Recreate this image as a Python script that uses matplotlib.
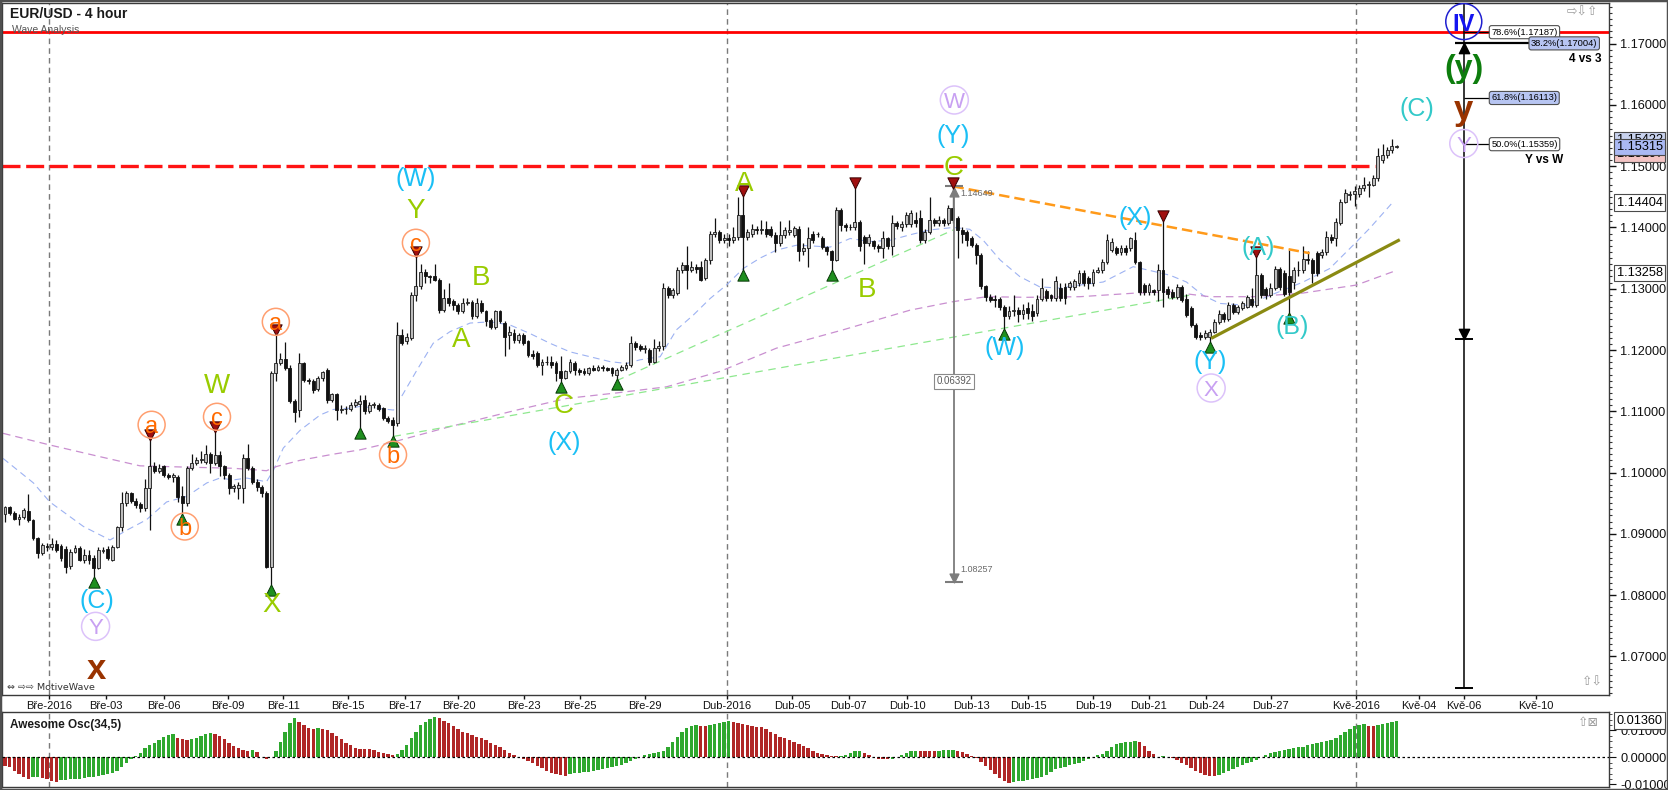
import matplotlib
matplotlib.use("Agg")
import matplotlib.pyplot as plt
import matplotlib.transforms as mtransforms
from matplotlib import font_manager
from matplotlib.ticker import MultipleLocator, FormatStrFormatter
import numpy as np

# ---------------------------------------------------------------- data
opens = [
 1.0933,1.0943,1.0934,1.0925,1.0928,1.0937,1.0923,1.0893,1.0868,1.0880,
 1.0878,1.0884,1.0880,1.0875,1.0847,1.0871,1.0877,1.0858,1.0866,1.0860,
 1.0845,1.0872,1.0876,1.0858,1.0879,1.0911,1.0950,1.0966,1.0953,1.0948,
 1.0942,1.0974,1.1010,1.1003,1.1010,1.0996,1.0993,1.0993,1.0962,1.0950,
 1.1007,1.1015,1.1020,1.1018,1.1030,1.1015,1.1029,1.1010,1.0996,1.0974,
 1.0974,1.0974,1.1023,1.1007,1.0985,1.0977,1.0966,1.0846,1.1162,1.1178,
 1.1186,1.1170,1.1116,1.1102,1.1178,1.1151,1.1150,1.1137,1.1154,1.1167,
 1.1118,1.1128,1.1102,1.1104,1.1103,1.1110,1.1112,1.1119,1.1100,1.1110,
 1.1111,1.1105,1.1089,1.1086,1.1081,1.1225,1.1214,1.1220,1.1290,1.1304,
 1.1328,1.1320,1.1321,1.1315,1.1266,1.1285,1.1280,1.1274,1.1263,1.1277,
 1.1278,1.1255,1.1277,1.1263,1.1249,1.1238,1.1263,1.1244,1.1225,1.1228,
 1.1217,1.1225,1.1214,1.1194,1.1195,1.1176,1.1181,1.1181,1.1178,1.1165,
 1.1154,1.1165,1.1179,1.1168,1.1165,1.1163,1.1170,1.1168,1.1172,1.1170,
 1.1170,1.1160,1.1168,1.1170,1.1176,1.1211,1.1206,1.1201,1.1200,1.1181,
 1.1203,1.1206,1.1301,1.1290,1.1293,1.1331,1.1339,1.1331,1.1336,1.1336,
 1.1317,1.1347,1.1390,1.1393,1.1380,1.1382,1.1380,1.1385,1.1420,1.1385,
 1.1390,1.1397,1.1396,1.1397,1.1398,1.1388,1.1374,1.1388,1.1393,1.1388,
 1.1398,1.1361,1.1366,1.1390,1.1389,1.1383,1.1368,1.1361,1.1347,1.1428,
 1.1404,1.1401,1.1400,1.1409,1.1385,1.1374,1.1378,1.1370,1.1366,1.1382,
 1.1369,1.1407,1.1401,1.1405,1.1405,1.1412,1.1415,1.1380,1.1393,1.1412,
 1.1407,1.1412,1.1407,1.1431,1.1415,1.1396,1.1393,1.1383,1.1372,1.1355,
 1.1304,1.1287,1.1284,1.1284,1.1270,1.1255,1.1264,1.1265,1.1258,1.1268,
 1.1263,1.1260,1.1284,1.1296,1.1289,1.1285,1.1301,1.1303,1.1303,1.1303,
 1.1309,1.1325,1.1317,1.1309,1.1328,1.1330,1.1344,1.1363,1.1366,1.1360,
 1.1366,1.1366,1.1380,1.1344,1.1306,1.1295,1.1298,1.1298,1.1330,1.1300,
 1.1295,1.1287,1.1303,1.1284,1.1268,1.1241,1.1225,1.1222,1.1222,1.1230,
 1.1246,1.1259,1.1250,1.1273,1.1262,1.1268,1.1270,1.1284,1.1273,1.1322,
 1.1300,1.1290,1.1301,1.1333,1.1325,1.1320,1.1311,1.1330,1.1330,1.1349,
 1.1347,1.1358,1.1355,1.1360,1.1385,1.1382,1.1407,1.1442,1.1453,1.1454,
 1.1455,1.1464,1.1470,1.1470,1.1480,1.1510,1.1518,1.1526,1.1532]
highs = [
 1.0945,1.0946,1.0937,1.0932,1.0942,1.0965,1.0925,1.0895,1.0885,1.0885,
 1.0893,1.0890,1.0884,1.0880,1.0875,1.0881,1.0880,1.0875,1.0874,1.0865,
 1.0878,1.0879,1.0880,1.0881,1.0913,1.0968,1.0970,1.0968,1.0958,1.0952,
 1.0990,1.1053,1.1018,1.1014,1.1013,1.0999,1.0999,1.0996,1.0978,1.1010,
 1.1030,1.1025,1.1035,1.1045,1.1033,1.1067,1.1035,1.1012,1.0999,1.0982,
 1.0984,1.1031,1.1046,1.1010,1.0990,1.0980,1.0970,1.1165,1.1224,1.1195,
 1.1213,1.1175,1.1120,1.1195,1.1180,1.1154,1.1153,1.1157,1.1166,1.1170,
 1.1130,1.1130,1.1110,1.1108,1.1115,1.1120,1.1126,1.1126,1.1115,1.1115,
 1.1114,1.1107,1.1092,1.1090,1.1245,1.1235,1.1228,1.1295,1.1352,1.1340,
 1.1332,1.1322,1.1340,1.1318,1.1300,1.1310,1.1283,1.1276,1.1285,1.1285,
 1.1282,1.1285,1.1282,1.1266,1.1252,1.1266,1.1266,1.1247,1.1240,1.1235,
 1.1228,1.1228,1.1217,1.1200,1.1198,1.1185,1.1190,1.1190,1.1182,1.1190,
 1.1168,1.1185,1.1182,1.1170,1.1170,1.1173,1.1175,1.1176,1.1175,1.1173,
 1.1173,1.1170,1.1176,1.1180,1.1223,1.1214,1.1210,1.1208,1.1204,1.1218,
 1.1215,1.1310,1.1305,1.1302,1.1335,1.1343,1.1369,1.1345,1.1340,1.1345,
 1.1350,1.1395,1.1415,1.1396,1.1390,1.1390,1.1400,1.1450,1.1452,1.1398,
 1.1405,1.1402,1.1412,1.1410,1.1403,1.1392,1.1410,1.1400,1.1412,1.1402,
 1.1402,1.1375,1.1400,1.1394,1.1393,1.1386,1.1370,1.1364,1.1433,1.1432,
 1.1408,1.1405,1.1464,1.1412,1.1388,1.1390,1.1380,1.1373,1.1395,1.1385,
 1.1420,1.1410,1.1410,1.1425,1.1428,1.1426,1.1428,1.1398,1.1450,1.1415,
 1.1418,1.1415,1.1437,1.1465,1.1418,1.1400,1.1396,1.1386,1.1375,1.1358,
 1.1306,1.1292,1.1290,1.1287,1.1273,1.1272,1.1290,1.1270,1.1275,1.1278,
 1.1275,1.1290,1.1318,1.1300,1.1292,1.1320,1.1310,1.1310,1.1312,1.1316,
 1.1330,1.1330,1.1320,1.1333,1.1335,1.1349,1.1390,1.1382,1.1370,1.1372,
 1.1372,1.1385,1.1392,1.1346,1.1310,1.1310,1.1300,1.1340,1.1410,1.1305,
 1.1300,1.1308,1.1306,1.1292,1.1272,1.1244,1.1230,1.1232,1.1235,1.1250,
 1.1265,1.1262,1.1278,1.1276,1.1274,1.1280,1.1290,1.1302,1.1352,1.1326,
 1.1303,1.1310,1.1337,1.1336,1.1330,1.1364,1.1335,1.1345,1.1370,1.1362,
 1.1350,1.1362,1.1365,1.1395,1.1390,1.1415,1.1446,1.1462,1.1460,1.1467,
 1.1470,1.1482,1.1475,1.1485,1.1530,1.1536,1.1532,1.1544,1.1534]
lows = [
 1.0920,1.0930,1.0922,1.0915,1.0925,1.0920,1.0890,1.0860,1.0865,1.0872,
 1.0874,1.0870,1.0855,1.0836,1.0843,1.0868,1.0855,1.0853,1.0850,1.0830,
 1.0842,1.0868,1.0857,1.0855,1.0877,1.0905,1.0945,1.0950,1.0942,1.0935,
 1.0938,1.0906,1.1000,1.1000,1.0993,1.0990,1.0985,1.0952,1.0933,1.0946,
 1.1004,1.1012,1.1016,1.1014,1.1000,1.1012,1.0995,1.0990,1.0965,1.0968,
 1.0957,1.0950,1.1004,1.0982,1.0970,1.0960,1.0845,1.0817,1.1150,1.1175,
 1.1167,1.1113,1.1082,1.1090,1.1147,1.1145,1.1130,1.1133,1.1150,1.1113,
 1.1115,1.1085,1.1098,1.1096,1.1100,1.1107,1.1073,1.1095,1.1097,1.1105,
 1.1100,1.1085,1.1081,1.1059,1.1076,1.1208,1.1210,1.1217,1.1280,1.1300,
 1.1310,1.1310,1.1312,1.1261,1.1262,1.1272,1.1266,1.1258,1.1260,1.1274,
 1.1250,1.1252,1.1260,1.1240,1.1235,1.1235,1.1244,1.1190,1.1202,1.1212,
 1.1212,1.1208,1.1189,1.1185,1.1172,1.1160,1.1176,1.1170,1.1150,1.1147,
 1.1152,1.1162,1.1160,1.1160,1.1160,1.1160,1.1165,1.1165,1.1166,1.1165,
 1.1158,1.1152,1.1165,1.1168,1.1172,1.1200,1.1198,1.1195,1.1175,1.1178,
 1.1198,1.1200,1.1285,1.1285,1.1290,1.1326,1.1300,1.1328,1.1326,1.1312,
 1.1315,1.1340,1.1385,1.1375,1.1375,1.1370,1.1375,1.1380,1.1330,1.1380,
 1.1385,1.1390,1.1390,1.1385,1.1385,1.1360,1.1370,1.1383,1.1388,1.1385,
 1.1345,1.1355,1.1335,1.1375,1.1385,1.1365,1.1355,1.1330,1.1345,1.1395,
 1.1395,1.1396,1.1396,1.1362,1.1340,1.1370,1.1365,1.1360,1.1350,1.1365,
 1.1355,1.1398,1.1395,1.1400,1.1400,1.1400,1.1375,1.1375,1.1390,1.1402,
 1.1402,1.1402,1.1404,1.1408,1.1350,1.1375,1.1370,1.1368,1.1340,1.1300,
 1.1280,1.1278,1.1270,1.1265,1.1235,1.1250,1.1255,1.1245,1.1250,1.1250,
 1.1248,1.1255,1.1280,1.1280,1.1280,1.1280,1.1280,1.1275,1.1298,1.1298,
 1.1305,1.1305,1.1300,1.1305,1.1325,1.1326,1.1340,1.1360,1.1355,1.1355,
 1.1355,1.1362,1.1340,1.1290,1.1290,1.1290,1.1290,1.1280,1.1270,1.1285,
 1.1283,1.1283,1.1278,1.1254,1.1238,1.1218,1.1217,1.1218,1.1213,1.1228,
 1.1243,1.1245,1.1247,1.1258,1.1258,1.1265,1.1268,1.1270,1.1270,1.1285,
 1.1283,1.1287,1.1298,1.1298,1.1288,1.1260,1.1300,1.1320,1.1325,1.1340,
 1.1310,1.1320,1.1350,1.1355,1.1375,1.1370,1.1404,1.1440,1.1445,1.1435,
 1.1450,1.1460,1.1450,1.1467,1.1475,1.1505,1.1514,1.1522,1.1530]
closes = [
 1.0943,1.0934,1.0925,1.0927,1.0939,1.0923,1.0893,1.0868,1.0882,1.0878,
 1.0884,1.0874,1.0860,1.0846,1.0871,1.0877,1.0858,1.0866,1.0857,1.0845,
 1.0874,1.0874,1.0860,1.0879,1.0911,1.0950,1.0966,1.0953,1.0947,1.0942,
 1.0974,1.1010,1.1003,1.1008,1.0996,1.0993,1.0996,1.0960,1.0950,1.1007,
 1.1015,1.1020,1.1022,1.1030,1.1015,1.1029,1.1010,1.0996,1.0974,1.0978,
 1.0980,1.1023,1.1007,1.0985,1.0977,1.0966,1.0846,1.1162,1.1178,1.1186,
 1.1170,1.1116,1.1099,1.1178,1.1151,1.1150,1.1135,1.1154,1.1164,1.1118,
 1.1128,1.1102,1.1104,1.1103,1.1110,1.1115,1.1117,1.1100,1.1110,1.1112,
 1.1103,1.1089,1.1084,1.1078,1.1225,1.1211,1.1222,1.1290,1.1304,1.1328,
 1.1320,1.1319,1.1315,1.1266,1.1285,1.1277,1.1274,1.1263,1.1277,1.1279,
 1.1255,1.1277,1.1263,1.1247,1.1237,1.1263,1.1247,1.1222,1.1230,1.1217,
 1.1225,1.1211,1.1192,1.1190,1.1176,1.1181,1.1180,1.1176,1.1162,1.1154,
 1.1165,1.1180,1.1168,1.1164,1.1163,1.1170,1.1168,1.1173,1.1170,1.1168,
 1.1162,1.1168,1.1173,1.1175,1.1211,1.1205,1.1202,1.1203,1.1181,1.1203,
 1.1206,1.1301,1.1290,1.1298,1.1331,1.1339,1.1331,1.1336,1.1333,1.1315,
 1.1347,1.1390,1.1393,1.1380,1.1383,1.1380,1.1385,1.1420,1.1385,1.1393,
 1.1398,1.1396,1.1398,1.1389,1.1388,1.1374,1.1388,1.1396,1.1396,1.1399,
 1.1361,1.1366,1.1382,1.1380,1.1390,1.1368,1.1361,1.1347,1.1428,1.1404,
 1.1400,1.1400,1.1409,1.1369,1.1374,1.1384,1.1369,1.1366,1.1382,1.1369,
 1.1407,1.1402,1.1405,1.1420,1.1424,1.1407,1.1380,1.1393,1.1412,1.1407,
 1.1412,1.1407,1.1431,1.1412,1.1396,1.1390,1.1380,1.1372,1.1355,1.1304,
 1.1287,1.1282,1.1282,1.1270,1.1255,1.1263,1.1265,1.1258,1.1265,1.1260,
 1.1255,1.1284,1.1301,1.1285,1.1285,1.1312,1.1285,1.1285,1.1309,1.1312,
 1.1325,1.1309,1.1309,1.1328,1.1330,1.1344,1.1379,1.1377,1.1358,1.1366,
 1.1360,1.1382,1.1344,1.1295,1.1295,1.1306,1.1295,1.1330,1.1295,1.1292,
 1.1287,1.1303,1.1282,1.1257,1.1241,1.1222,1.1222,1.1227,1.1230,1.1246,
 1.1259,1.1250,1.1273,1.1262,1.1270,1.1276,1.1287,1.1273,1.1322,1.1290,
 1.1290,1.1301,1.1333,1.1303,1.1292,1.1295,1.1330,1.1331,1.1349,1.1347,
 1.1325,1.1325,1.1360,1.1385,1.1380,1.1409,1.1442,1.1456,1.1454,1.1459,
 1.1464,1.1469,1.1470,1.1480,1.1516,1.1518,1.1526,1.1533,1.1532]

# Awesome Oscillator (34,5), read per bar, in units of 1e-4
ao_e4 = [
 -32.1,-37.1,-49.4,-61.8,-71.7,-79.1,-74.2,-71.7,-75.4,-81.6,
 -87.8,-90.2,-84.0,-82.8,-81.6,-80.3,-79.1,-76.6,-74.2,-71.7,
 -69.2,-65.5,-60.6,-56.9,-49.4,-37.1,-22.2,-7.4,4.9,17.3,
 33.4,45.7,54.4,64.3,74.2,82.8,85.3,70.4,66.8,64.3,
 66.8,70.4,79.1,86.5,89.0,86.5,79.1,66.8,54.4,42.0,
 33.4,27.2,24.7,25.9,21.0,2.5,-4.9,0.0,24.7,58.1,
 95.2,126.1,144.6,132.3,119.9,110.0,106.3,107.5,106.3,101.3,
 91.5,79.1,66.8,54.4,45.7,35.8,32.1,29.7,29.0,27.2,
 21.0,17.3,12.4,7.4,12.4,27.2,45.7,70.4,95.2,119.9,
 132.3,140.9,150.8,144.6,135.2,126.1,116.2,105.1,95.2,89.0,
 82.8,76.6,70.4,64.3,54.4,45.7,37.1,27.2,17.3,8.7,
 0.0,-7.4,-13.6,-22.2,-32.1,-40.8,-49.4,-56.9,-61.8,-65.5,
 -68.0,-61.8,-59.3,-56.9,-54.4,-53.1,-50.7,-46.9,-44.5,-40.8,
 -37.1,-32.1,-28.4,-22.2,-13.6,-7.4,0.0,7.4,12.4,14.8,
 18.5,24.7,37.1,58.1,76.6,95.2,107.5,116.2,118.7,117.4,
 116.2,118.7,123.6,128.5,132.3,134.7,132.3,128.5,123.6,118.7,
 116.2,113.7,111.2,103.8,95.2,86.5,76.6,70.4,64.3,56.9,
 49.4,42.0,33.4,24.7,17.3,12.4,7.4,4.9,3.7,6.2,
 9.9,14.8,22.2,24.7,14.8,7.4,0.0,-4.9,-7.4,-7.9,
 -4.9,0.0,9.9,17.3,22.2,24.7,24.1,23.5,22.9,22.2,
 23.5,25.9,27.2,27.8,24.7,19.8,12.4,4.9,-2.5,-16.1,
 -32.1,-46.9,-61.8,-77.9,-87.8,-93.9,-91.5,-89.0,-86.5,-84.0,
 -81.6,-77.9,-71.7,-64.3,-54.4,-44.5,-39.6,-34.6,-29.7,-24.7,
 -19.8,-13.6,-7.4,0.0,7.4,12.4,22.2,37.1,48.2,54.4,
 56.9,58.1,61.8,58.1,42.0,24.7,12.4,2.5,3.1,1.2,
 -2.5,-9.9,-19.8,-29.7,-39.6,-49.4,-59.3,-65.5,-69.2,-69.8,
 -64.3,-56.9,-49.4,-42.0,-34.6,-28.4,-22.2,-17.3,-9.9,0.0,
 7.4,14.8,19.8,24.7,27.2,32.1,35.8,37.1,39.6,44.5,
 49.4,51.9,56.9,60.6,64.3,71.7,81.6,95.2,106.3,116.2,
 121.1,121.7,117.4,116.2,118.7,123.6,127.3,131.0,136.0]

date_labels = ["Bře-2016", "Bře-03", "Bře-06", "Bře-09", "Bře-11", "Bře-15",
               "Bře-17", "Bře-20", "Bře-23", "Bře-25", "Bře-29", "Dub-2016",
               "Dub-05", "Dub-07", "Dub-10", "Dub-13", "Dub-15", "Dub-19",
               "Dub-21", "Dub-24", "Dub-27", "Kvě-2016", "Kvě-04", "Kvě-06",
               "Kvě-10"]
date_bars = [9.5, 21.7, 34.0, 47.7, 59.6, 73.5, 85.7, 97.1, 111.1, 123.1, 137.0,
             154.6, 168.6, 180.7, 193.2, 206.9, 219.1, 233.0, 244.9, 257.3,
             271.1, 289.3, 302.8, 312.5, 327.9]

# moving averages (bar index, price)
fast_ma_bars = [-0.4,6.1,9.6,16.8,22.5,26.1,30.3,34.6,38.9,43.2,46.0,48.9,51.8,56.0,
                57.5,59.6,63.2,67.5,70.3,73.9,76.0,83.2,85.3,88.2,91.7,95.3,99.6,
                103.9,108.1,112.4,116.7,121.0,125.3,129.6,133.1,136.0,140.3,143.8,
                147.4,151.0,154.5,158.1,161.7,165.2,169.5,172.4,176.7,181.0,185.2,
                189.5,193.8,198.1,203.1,206.6,209.5,213.1,217.3,221.6,225.9,230.2,
                235.2,241.6,244.5,249.5,253.0,256.6,260.2,265.9,270.9,278.0,283.7,
                288.7,292.3,297.3]
fast_ma_values = [1.1023,1.0983,1.0952,1.0912,1.0890,1.0906,1.0923,1.0952,1.0961,1.0983,
                  1.0991,1.0988,1.0991,1.0985,1.1004,1.1040,1.1069,1.1094,1.1103,1.1105,
                  1.1108,1.1102,1.1129,1.1167,1.1211,1.1230,1.1244,1.1246,1.1241,1.1227,
                  1.1211,1.1197,1.1189,1.1181,1.1178,1.1184,1.1189,1.1233,1.1257,1.1284,
                  1.1306,1.1333,1.1350,1.1363,1.1371,1.1370,1.1368,1.1382,1.1377,1.1379,
                  1.1388,1.1396,1.1400,1.1397,1.1379,1.1347,1.1320,1.1303,1.1301,1.1306,
                  1.1311,1.1336,1.1331,1.1322,1.1311,1.1289,1.1276,1.1273,1.1289,1.1311,
                  1.1333,1.1371,1.1399,1.1442]
slow_ma_bars = [-0.4,9.6,20.3,28.9,38.2,48.9,56.0,58.2,63.2,70.3,76.0,83.2,95.3,109.6,
                120.3,131.0,141.7,153.1,165.2,179.5,193.8,203.1,210.2,218.8,230.2,
                242.3,249.5,258.0,267.3,278.0,289.4,297.3]
slow_ma_values = [1.1064,1.1045,1.1026,1.1011,1.1009,1.1007,1.1003,1.1010,1.1020,1.1030,
                  1.1037,1.1050,1.1075,1.1102,1.1121,1.1130,1.1140,1.1165,1.1203,1.1233,
                  1.1265,1.1279,1.1287,1.1286,1.1287,1.1293,1.1295,1.1287,1.1287,1.1293,
                  1.1306,1.1328]

# swing markers (bar indices)
swing_high_bars = [31, 45, 58, 88, 158, 182, 203, 248, 268]
swing_low_bars = [19, 38, 57, 76, 83, 119, 131, 158, 177, 214, 258, 275]

# wave labels
wave_texts = ['(C)','Y','x','a','b','c','W','a','X','b','c','Y','(W)','A','B','C','(X)',
              'A','B','C','(Y)','W','(W)','(X)','(Y)','X','(A)','(B)','(C)','IV','(y)','y','Y']
wave_bars = [19.6,19.4,19.6,31.4,38.5,45.4,45.4,58.0,57.0,83.1,88.0,88.0,88.0,97.6,101.9,
             119.6,119.8,158.2,184.5,203.1,203.1,203.3,214.1,242.1,258.1,258.3,268.4,
             275.7,302.4,312.4,312.4,312.4,312.4]
wave_prices = [1.0795,1.0749,1.0684,1.1078,1.0912,1.1091,1.1146,1.1246,1.0789,1.1029,
               1.1375,1.1431,1.1483,1.1222,1.1322,1.1113,1.1053,1.1475,1.1303,1.1502,
               1.1554,1.1608,1.1208,1.1420,1.1184,1.1138,1.1371,1.1241,1.1597,1.1736,
               1.1665,1.1597,1.1537]
wave_kinds = ['cyan','lilac','brown','orange','orange','orange','lime','orange','lime','orange',
              'orange','lime','cyan','lime','lime','lime','cyan','lime','lime','lime',
              'cyan','lilac','cyan','cyan','cyan','lilac','teal','teal','teal','blue',
              'green','brown','lilac']

# drawn lines (bar, price endpoints)
green_trend_bars = [(83.2, 254.1), (131.0, 203.1)]
green_trend_prices = [(1.1059, 1.1290), (1.1150, 1.1396)]
orange_trend_bars = (203.1, 279.4)
orange_trend_prices = (1.1467, 1.1358)
olive_trend_bars = (258.3, 298.7)
olive_trend_prices = (1.1219, 1.1380)

level_solid = 1.17187
level_dashed = 1.15000
level_dashed_end_bar = 293.4

# measurement tool at wave C
measure_bar = 203.3
measure_high = 1.14649
measure_low = 1.08257

# fibonacci projection tool on the right
fib_bar = 312.4
fib_names = ['78.6%', '38.2%', '61.8%', '50.0%']
fib_levels = [1.17187, 1.17004, 1.16113, 1.15359]
fib_top, fib_bottom, fib_target = 1.1766, 1.0648, 1.12175

axis_marks = [1.15422, 1.15197, 1.15315, 1.14404, 1.13258]
ao_last = 0.01360

# ---------------------------------------------------------------- styling
plt.rcParams['font.family'] = ['Liberation Sans', 'DejaVu Sans']
names = {f.name for f in font_manager.fontManager.ttflist}
HAS_NARROW = 'Liberation Sans Narrow' in names
NARROW = ['Liberation Sans Narrow', 'Liberation Sans'] if HAS_NARROW else ['Liberation Sans']
narrow_size = 8 if HAS_NARROW else 6.7

W, H = 1668, 790
fig = plt.figure(figsize=(W / 100, H / 100), dpi=100)
fig.patch.set_facecolor('white')


def rect(l, t, r, b):
    return [l / W, 1 - b / H, (r - l) / W, (b - t) / H]


ax = fig.add_axes(rect(2, 3, 1609, 695))
ao = fig.add_axes(rect(2, 712, 1609, 787))
XMIN, XMAX = -0.64, 343.5
for a in (ax, ao):
    a.set_xlim(XMIN, XMAX)
    for s in a.spines.values():
        s.set_color('#3a3a3a')
        s.set_linewidth(1.0)
ax.set_ylim(1.0637, 1.17663)
ao.set_ylim(-0.0110, 0.01678)

o = np.array(opens); h = np.array(highs); l = np.array(lows); c = np.array(closes)
x = np.arange(len(c))

# month separators
for lab, pos in zip(date_labels, date_bars):
    if '2016' in lab:
        for a in (ax, ao):
            a.axvline(pos, color='#7a7a7a', lw=1.0, ls=(0, (4, 3)), zorder=1)

# horizontal levels
ax.axhline(level_solid, color='#ff0000', lw=2.0, zorder=2)
ax.hlines(level_dashed, XMIN, level_dashed_end_bar, color='#ff1414', lw=2.4,
          linestyles=(0, (5.4, 1.7)), zorder=2)

# moving averages
ax.plot(fast_ma_bars, fast_ma_values, color='#9db2f2', lw=0.8, ls=(0, (6, 4)), zorder=2)
ax.plot(slow_ma_bars, slow_ma_values, color='#c98fd0', lw=0.9, ls=(0, (6, 4)), zorder=2)

# trend lines
for bx, py in zip(green_trend_bars, green_trend_prices):
    ax.plot(bx, py, color='#8ee88e', lw=0.9, ls=(0, (6, 4.5)), zorder=2)
ax.plot(orange_trend_bars, orange_trend_prices, color='#ff9a1a', lw=1.8,
        ls=(0, (4.2, 2.0)), zorder=5)
ax.plot(olive_trend_bars, olive_trend_prices, color='#8a8a12', lw=2.3,
        solid_capstyle='butt', zorder=5)

# candles
up = c >= o
ax.vlines(x, l, h, colors='#111111', lw=0.9, zorder=3)
bot = np.minimum(o, c)
hgt = np.maximum(np.abs(c - o), 0.00007)
ax.bar(x[up], hgt[up], bottom=bot[up], width=0.62, color='#bcbcbc',
       edgecolor='#1a1a1a', linewidth=0.6, zorder=4)
ax.bar(x[~up], hgt[~up], bottom=bot[~up], width=0.62, color='#111111',
       edgecolor='#111111', linewidth=0.6, zorder=4)

# swing markers
off_up = mtransforms.offset_copy(ax.transData, fig=fig, x=0, y=5, units='dots')
off_dn = mtransforms.offset_copy(ax.transData, fig=fig, x=0, y=-5, units='dots')
hb = np.array(swing_high_bars); lb = np.array(swing_low_bars)
ax.scatter(hb, h[hb], marker='v', s=66, c='#a01010', edgecolors='#3a0000',
           linewidths=0.7, transform=off_up, zorder=7)
ax.scatter(lb, l[lb], marker='^', s=66, c='#1f8f1f', edgecolors='#063806',
           linewidths=0.7, transform=off_dn, zorder=7)

# measurement tool
gray = '#7c7c7c'
ax.vlines(measure_bar, measure_low - 0.0004, measure_high + 0.0002, color=gray, lw=1.3, zorder=6)
ax.hlines([measure_high + 0.0002, measure_low - 0.0004], measure_bar - 1.9, measure_bar + 1.9,
          color=gray, lw=1.5, zorder=6)
ax.scatter([measure_bar], [measure_high - 0.0007], marker='^', s=40, c=gray, zorder=6)
ax.scatter([measure_bar], [measure_low + 0.0003], marker='v', s=40, c=gray, zorder=6)
ax.text(measure_bar + 1.2, measure_high - 0.0010, f'{measure_high:.5f}', fontsize=6.5,
        color='#6a6a6a', va='center', ha='left', zorder=6)
ax.text(measure_bar + 1.2, measure_low + 0.0016, f'{measure_low:.5f}', fontsize=6.5,
        color='#6a6a6a', va='center', ha='left', zorder=6)
ax.text(measure_bar, (measure_high + measure_low) / 2 + 0.00035,
        f'{measure_high - measure_low:.5f}', fontsize=7, color='#5a5a5a', ha='center',
        va='center', zorder=7,
        bbox=dict(boxstyle='square,pad=0.25', fc='white', ec='#8a8a8a', lw=0.8))

# fibonacci tool
ax.vlines(fib_bar, fib_bottom, fib_top, color='black', lw=1.1, zorder=6)
ax.hlines([fib_top, fib_bottom, fib_target], fib_bar - 1.9, fib_bar + 1.9, color='black',
          lw=1.4, zorder=6)
ax.scatter([fib_bar], [fib_target], marker='v', s=55, c='black', transform=off_up, zorder=6)
fib_fill = {'78.6%': 'white', '38.2%': '#b7c5f2', '61.8%': '#b7c5f2', '50.0%': 'white'}
for name, lvl in zip(fib_names, fib_levels):
    if name == '38.2%':
        ax.hlines(lvl, fib_bar - 1.9, 326.4, color='black', lw=1.6, zorder=6)
        ax.scatter([fib_bar], [lvl], marker='^', s=55, c='black', transform=off_dn, zorder=6)
        x0 = 326.4
    else:
        ax.hlines(lvl, fib_bar, 317.9, color='black', lw=0.9, zorder=6)
        x0 = 317.9
    ax.text(x0 + 0.4, lvl, f'{name}({lvl:.5f})', family=NARROW, fontsize=narrow_size,
            ha='left', va='center', zorder=8,
            bbox=dict(boxstyle='round,pad=0.22,rounding_size=0.25', fc=fib_fill[name],
                      ec='#505050', lw=0.8))
ax.text(338.4, 1.16744, '4 vs 3', fontsize=8.5, weight='bold', ha='center', va='center', zorder=8)
ax.text(329.5, 1.15100, 'Y vs W', fontsize=8.5, weight='bold', ha='center', va='center', zorder=8)

# wave labels
styles = {
    'orange': dict(color='#ff6a00', size=17, ring='#ff9f70', ring_d=27),
    'lime': dict(color='#99cc00', size=20),
    'cyan': dict(color='#1abff5', size=18),
    'teal': dict(color='#33c9c9', size=18),
    'lilac': dict(color='#c8a0f2', size=16, ring='#dcc2fa', ring_d=28),
    'brown': dict(color='#993300', size=25, weight='bold'),
    'green': dict(color='#0d7d0d', size=23, weight='bold'),
    'blue': dict(color='#1414f0', size=17, weight='bold', ring='#2020d0', ring_d=36),
}
for txt, bx, py, kind in zip(wave_texts, wave_bars, wave_prices, wave_kinds):
    st = styles[kind]
    if 'ring' in st:
        ax.scatter([bx], [py], s=(st['ring_d'] * 0.72) ** 2, marker='o', facecolors='none',
                   edgecolors=st['ring'], linewidths=1.1, zorder=8)
    ax.text(bx, py, txt, color=st['color'], fontsize=st['size'],
            weight=st.get('weight', 'normal'), ha='center', va='center_baseline', zorder=9)

# axes: main
ax.yaxis.tick_right()
ax.set_yticks(np.round(np.arange(1.07, 1.1705, 0.01), 2))
ax.yaxis.set_major_formatter(FormatStrFormatter('%.5f'))
ax.yaxis.set_minor_locator(MultipleLocator(0.001))
ax.tick_params(axis='y', which='major', length=5, width=1, pad=3, labelsize=9.2, colors='#111111')
ax.tick_params(axis='y', which='minor', length=2.5, width=0.8, colors='#333333')
ax.set_xticks(date_bars)
ax.set_xticklabels(date_labels)
ax.tick_params(axis='x', length=3, width=1, pad=1.5, labelsize=8, colors='#111111')

trans = mtransforms.blended_transform_factory(ax.transAxes, ax.transData)
mark_fill = {1.15422: '#c8d2ee', 1.15197: '#f3c4c4', 1.15315: '#aab9f3',
             1.14404: 'white', 1.13258: 'white'}
for pm in axis_marks:
    ax.text(1.0048, pm, f'{pm:.5f}', transform=trans, fontsize=9.2, ha='left', va='center',
            clip_on=False, zorder=10,
            bbox=dict(boxstyle='square,pad=0.18', fc=mark_fill[pm], ec='#4a4a4a', lw=0.8))

# axes: AO
av = np.array(ao_e4) * 1e-4
rising = np.concatenate([[False], np.diff(av) > 0])
ao.bar(x, av, width=0.72, color=np.where(rising, '#2fa82f', '#b02626'), zorder=3)
ao.axhline(0, color='black', lw=0.9, ls=(0, (2, 2)), zorder=4)
ao.set_xticks([])
ao.yaxis.tick_right()
ao.set_yticks([-0.01, 0.0, 0.01])
ao.yaxis.set_major_formatter(FormatStrFormatter('%.5f'))
ao.yaxis.set_minor_locator(MultipleLocator(0.002))
ao.tick_params(axis='y', which='major', length=5, pad=3, labelsize=9.2, colors='#111111')
ao.tick_params(axis='y', which='minor', length=2.5, colors='#333333')
trans2 = mtransforms.blended_transform_factory(ao.transAxes, ao.transData)
ao.text(1.0048, ao_last, f'{ao_last:.5f}', transform=trans2, fontsize=9.2, ha='left',
        va='center', clip_on=False, zorder=10,
        bbox=dict(boxstyle='square,pad=0.18', fc='white', ec='#4a4a4a', lw=0.8))

# titles and decorations
fig.text(10 / W, 1 - 14 / H, 'EUR/USD - 4 hour', fontsize=10, weight='bold', color='#1a1a1a',
         va='center')
fig.text(12 / W, 1 - 30 / H, 'Wave Analysis', fontsize=7.5, color='#555555', va='center')
fig.text(7 / W, 1 - 687 / H, '⇔ ⇨⇨ MotiveWave', fontsize=6.8, color='#333333', va='center',
         family=['DejaVu Sans'])
fig.text(1567 / W, 1 - 12 / H, '⇨⇩⇧', fontsize=9, color='#9a9a9a', va='center',
         family=['DejaVu Sans'])
fig.text(1582 / W, 1 - 682 / H, '⇧⇩', fontsize=9, color='#9a9a9a', va='center',
         family=['DejaVu Sans'])
fig.text(10 / W, 1 - 725 / H, 'Awesome Osc(34,5)', fontsize=8.5, weight='bold',
         color='#1a1a1a', va='center')
fig.text(1578 / W, 1 - 722 / H, '⇧⊠', fontsize=9, color='#9a9a9a', va='center',
         family=['DejaVu Sans'])
fig.add_artist(plt.Rectangle((0, 0), 1, 1, transform=fig.transFigure, fill=False,
                             ec='#505050', lw=2.5))

fig.savefig('out.png', dpi=100, facecolor='white')
